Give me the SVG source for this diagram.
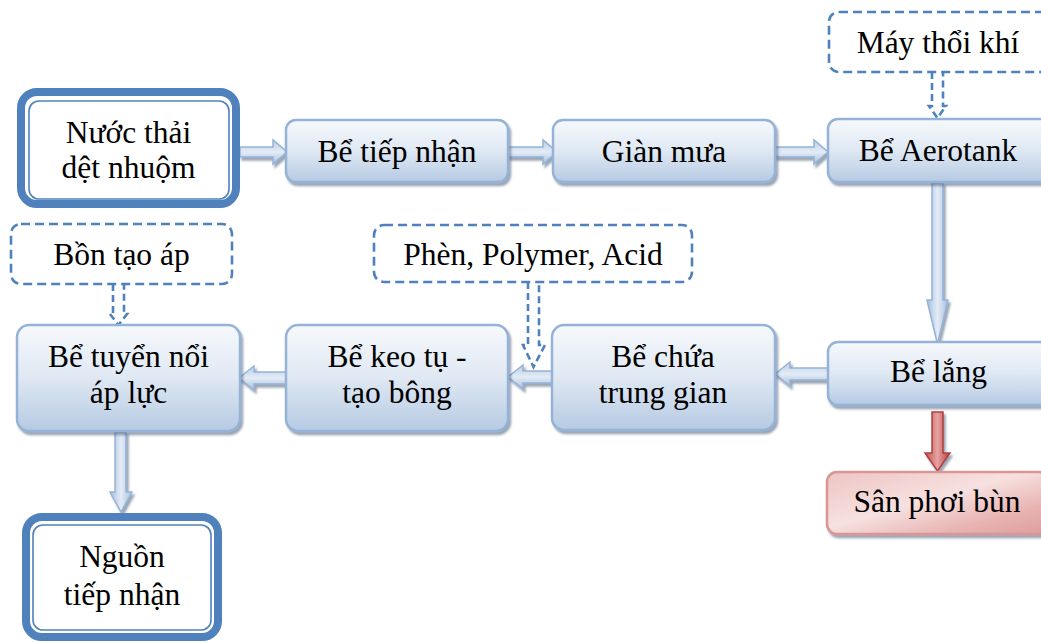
<svg xmlns="http://www.w3.org/2000/svg" width="1041" height="643" viewBox="0 0 1041 643">
<defs>
<linearGradient id="gBox" x1="0" y1="0" x2="0" y2="1">
<stop offset="0" stop-color="#f6f9fc"/>
<stop offset="0.5" stop-color="#dfe8f3"/>
<stop offset="1" stop-color="#b6cae3"/>
</linearGradient>
<linearGradient id="gRed" x1="0" y1="0" x2="1" y2="1">
<stop offset="0" stop-color="#eec4c3"/>
<stop offset="0.45" stop-color="#f6e1e0"/>
<stop offset="0.75" stop-color="#e8b4b3"/>
<stop offset="1" stop-color="#dd9d9c"/>
</linearGradient>
<linearGradient id="gArrH" x1="0" y1="0" x2="0" y2="1">
<stop offset="0" stop-color="#b8cce4"/>
<stop offset="0.5" stop-color="#e4ecf6"/>
<stop offset="1" stop-color="#a7bfdd"/>
</linearGradient>
<linearGradient id="gArrV" x1="0" y1="0" x2="1" y2="0">
<stop offset="0" stop-color="#a7bfdd"/>
<stop offset="0.5" stop-color="#e4ecf6"/>
<stop offset="1" stop-color="#a7bfdd"/>
</linearGradient>
<linearGradient id="gArrRed" x1="0" y1="0" x2="1" y2="0">
<stop offset="0" stop-color="#c0504d"/>
<stop offset="0.5" stop-color="#e6a3a1"/>
<stop offset="1" stop-color="#b0403d"/>
</linearGradient>
<filter id="sh" x="-10%" y="-10%" width="130%" height="140%">
<feDropShadow dx="2" dy="3" stdDeviation="1.2" flood-color="#4a5d78" flood-opacity="0.55"/>
</filter>
</defs>
<style>
text{font-family:"Liberation Serif","Times New Roman",serif;font-size:31.5px;fill:#000;text-anchor:middle}
.box{fill:url(#gBox);stroke:#95b3d7;stroke-width:2.5}
.red{fill:url(#gRed);stroke:#d99694;stroke-width:2.5}
.term{fill:#fff;stroke:#4f81bd;stroke-width:8}
.termin{fill:none;stroke:#4f81bd;stroke-width:1.6}
.dash{fill:#fff;stroke:#4f81bd;stroke-width:2.6;stroke-dasharray:9 5}
.darr{fill:none;stroke:#4f81bd;stroke-width:2.6;stroke-dasharray:7 4}
.ah{fill:url(#gArrH);stroke:#95b3d7;stroke-width:1.5}
.av{fill:url(#gArrV);stroke:#95b3d7;stroke-width:1.5}
.ar{fill:url(#gArrRed);stroke:#b0403d;stroke-width:1.5}
</style>
<rect width="1041" height="643" fill="#fff"/>

<g id="connectors">
<g filter="url(#sh)">
<path class="ah" d="M240,147 H273 V140 L287,152 L273,164 V157 H240 Z"/>
<path class="ah" d="M508,147 H543 V140 L557,152 L543,164 V157 H508 Z"/>
<path class="ah" d="M775,147 H814 V140 L828,152 L814,164 V157 H775 Z"/>
<path class="av" d="M932,183 V300 H927 L937.5,344 L948,300 H943 V183 Z"/>
<path class="ar" d="M932,412 V453 H925 L937.5,471 L950,453 H943 V412 Z"/>
<path class="ah" d="M828,368 H790 V362 L775,374 L790,386 V380 H828 Z"/>
<path class="ah" d="M555,371 H523 V365 L508,377 L523,389 V383 H555 Z"/>
<path class="ah" d="M287,372 H254 V366 L239,378 L254,390 V384 H287 Z"/>
<path class="av" d="M115,432 V492 H110 L121,512 L132,492 H126 V432 Z"/>
</g>
<path class="darr" d="M932,72 V106 H929 L937.5,118 L946,106 H943 V72"/>
<path class="darr" d="M113,284 V314 H110 L118.5,325 L127,314 H124 V284"/>
<path class="darr" d="M528,282 V345 H523 L533.5,367 L545,345 H539 V282"/>
</g>

<g id="nuoc-thai">
<rect class="term" x="21" y="92" width="215" height="112" rx="16"/>
<rect class="termin" x="29" y="101" width="200" height="98" rx="10"/>
<text x="128.5" y="143">Nước thải</text>
<text x="128.5" y="178">dệt nhuộm</text>
</g>

<g id="be-tiep-nhan">
<rect class="box" filter="url(#sh)" x="286" y="120" width="222" height="62" rx="10"/>
<text x="397" y="162">Bể tiếp nhận</text>
</g>

<g id="gian-mua">
<rect class="box" filter="url(#sh)" x="553" y="120" width="222" height="62" rx="10"/>
<text x="664" y="162">Giàn mưa</text>
</g>

<g id="may-thoi-khi">
<rect class="dash" x="829" y="12" width="222" height="60" rx="10"/>
<text x="938" y="53">Máy thổi khí</text>
</g>

<g id="be-aerotank">
<rect class="box" filter="url(#sh)" x="828" y="119" width="222" height="63" rx="10"/>
<text x="938" y="161">Bể Aerotank</text>
</g>

<g id="be-lang">
<rect class="box" filter="url(#sh)" x="828" y="342" width="222" height="63" rx="10"/>
<text x="938.5" y="382">Bể lắng</text>
</g>

<g id="san-phoi-bun">
<rect class="red" filter="url(#sh)" x="827" y="472" width="222" height="62" rx="10"/>
<text x="937" y="512">Sân phơi bùn</text>
</g>

<g id="be-chua-trung-gian">
<rect class="box" filter="url(#sh)" x="552" y="325" width="223" height="105" rx="12"/>
<text x="663" y="367">Bể chứa</text>
<text x="663" y="403">trung gian</text>
</g>

<g id="phen-polymer-acid">
<rect class="dash" x="374" y="225" width="318" height="57" rx="10"/>
<text x="533" y="265">Phèn, Polymer, Acid</text>
</g>

<g id="be-keo-tu">
<rect class="box" filter="url(#sh)" x="286" y="325" width="222" height="106" rx="12"/>
<text x="397" y="367">Bể keo tụ -</text>
<text x="397" y="403">tạo bông</text>
</g>

<g id="bon-tao-ap">
<rect class="dash" x="11" y="224" width="221" height="60" rx="10"/>
<text x="121.5" y="265">Bồn tạo áp</text>
</g>

<g id="be-tuyen-noi">
<rect class="box" filter="url(#sh)" x="17" y="325" width="223" height="106" rx="12"/>
<text x="128.5" y="367">Bể tuyển nổi</text>
<text x="128.5" y="403">áp lực</text>
</g>

<g id="nguon-tiep-nhan">
<rect class="term" x="26" y="517" width="192" height="120" rx="16"/>
<rect class="termin" x="33" y="525" width="178" height="105" rx="10"/>
<text x="122" y="567">Nguồn</text>
<text x="122" y="605">tiếp nhận</text>
</g>
</svg>
